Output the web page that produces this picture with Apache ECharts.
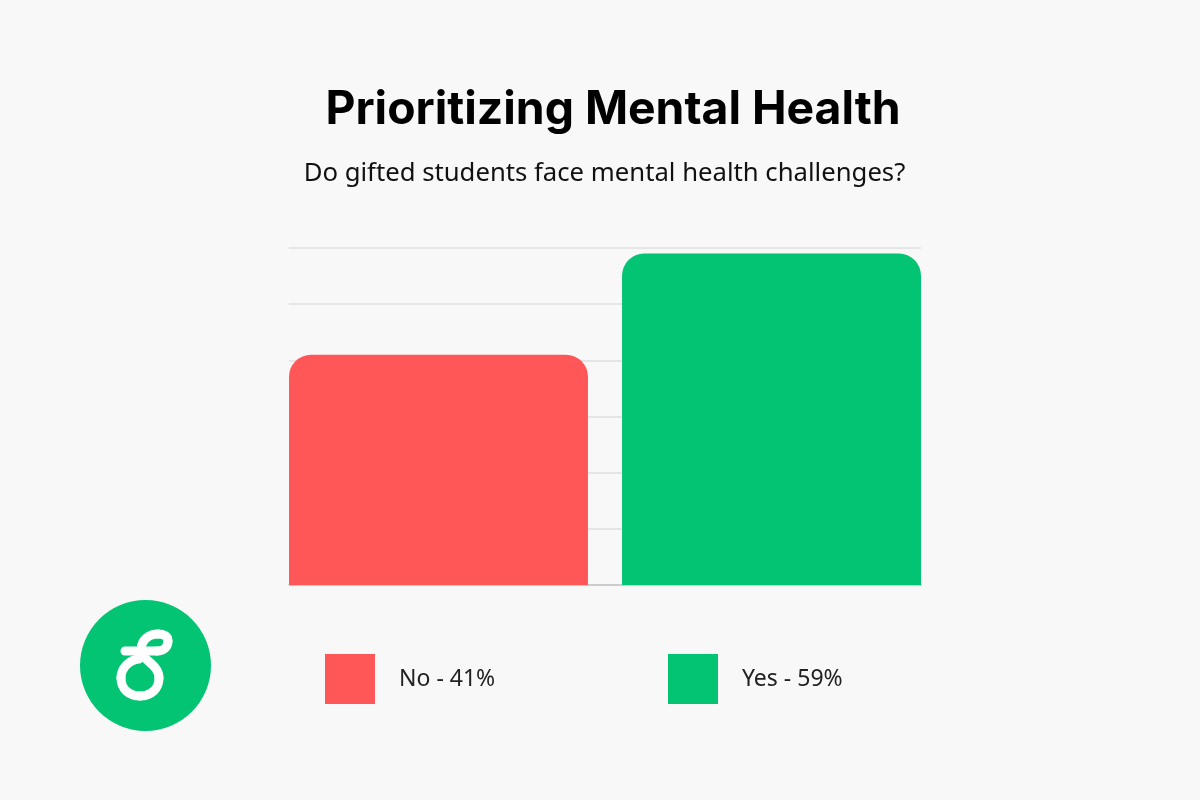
<!DOCTYPE html>
<html>
<head>
<meta charset="utf-8">
<style>html,body{margin:0;padding:0;background:#f8f8f8}#chart{width:1200px;height:800px}</style>
<script src="https://cdn.jsdelivr.net/npm/echarts@6/dist/echarts.min.js"></script>
</head>
<body>
<div id="chart"></div>
<script>
const titleText = 'Prioritizing Mental Health';
const subtitleText = 'Do gifted students face mental health challenges?';
const answers = ['No', 'Yes'];
const shares = [41, 59];
const barColors = ['#ff5757', '#02c473'];
const legendLefts = [325, 668];
const axisMax = 60;
const axisStep = 10;
const FONT = '"Noto Sans", sans-serif';

const chart = echarts.init(document.getElementById('chart'), null, { renderer: 'canvas' });

// logo squiggle, one stroke split into bezier pieces
const logoStroke = { fill: 'none', stroke: '#fff', lineWidth: 9, lineCap: 'round' };
const logoCurves = [
  [125, 651, 157, 651, 140, 651, 147, 651],
  [157, 651, 168, 641, 164, 651, 168, 647],
  [168, 641, 158, 634, 168, 636, 164, 634],
  [158, 634, 141, 650, 149, 634, 141, 640],
  [141, 650, 159, 678, 141, 660, 159, 664],
  [159, 678, 140, 696, 159, 689, 151, 696],
  [140, 696, 121, 678, 129, 696, 121, 689],
  [121, 678, 139, 659, 121, 668, 129, 660],
];

chart.setOption({
  backgroundColor: '#f8f8f8',
  animation: false,
  title: [
    { text: titleText, left: 608, top: 82, textAlign: 'center',
      textStyle: { color: '#000', fontFamily: 'Inter, sans-serif', fontSize: 46.3, fontWeight: 700 } },
    { text: subtitleText, left: 599.5, top: 156, textAlign: 'center',
      textStyle: { color: '#111', fontFamily: FONT, fontSize: 25.7, fontWeight: 400 } },
  ],
  // one legend per answer so each block sits where the reference has it
  legend: answers.map((a, i) => ({
    data: [a], left: legendLefts[i], top: 654, padding: 0, orient: 'horizontal',
    icon: 'rect', itemWidth: 50, itemHeight: 50, selectedMode: false,
    formatter: (name) => name + ' - ' + shares[answers.indexOf(name)] + '%',
    textStyle: { color: '#222', fontFamily: FONT, fontSize: 23, padding: [2, 0, 0, 19] },
  })),
  grid: { left: 289, right: 279, top: 248, bottom: 215 },
  xAxis: {
    type: 'category', data: ['Answer'],
    axisLine: { lineStyle: { color: '#c4c4c4', width: 1.5 } },
    axisTick: { show: false }, axisLabel: { show: false },
  },
  yAxis: {
    type: 'value', min: 0, max: axisMax, interval: axisStep,
    axisLine: { show: false }, axisTick: { show: false }, axisLabel: { show: false },
    splitLine: { lineStyle: { color: '#dfdfdf', width: 1.5 } },
  },
  series: answers.map((a, i) => ({
    name: a, type: 'bar', data: [shares[i]],
    barWidth: 299, barGap: '11.4%',
    itemStyle: { color: barColors[i], borderRadius: [22, 22, 0, 0] },
  })),
  graphic: [
    { type: 'circle', shape: { cx: 145.5, cy: 665.5, r: 65.5 }, style: { fill: '#02c473' } },
    ...logoCurves.map((c) => ({
      type: 'bezierCurve',
      shape: { x1: c[0], y1: c[1], x2: c[2], y2: c[3], cpx1: c[4], cpy1: c[5], cpx2: c[6], cpy2: c[7] },
      style: logoStroke,
    })),
  ],
});
</script>
</body>
</html>
